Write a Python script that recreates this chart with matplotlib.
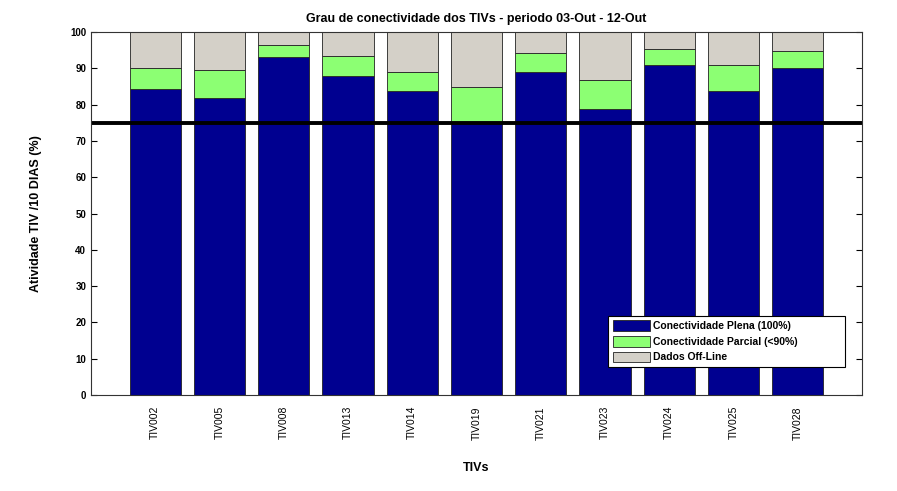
import matplotlib
matplotlib.use('Agg')
import matplotlib.pyplot as plt
import numpy as np

plt.rcParams['font.family'] = ['Liberation Sans', 'DejaVu Sans']

# dados
tivs = ['TIV002', 'TIV005', 'TIV008', 'TIV013', 'TIV014', 'TIV019',
        'TIV021', 'TIV023', 'TIV024', 'TIV025', 'TIV028']
plena = [84.3, 81.9, 93.1, 88.0, 83.7, 75.0, 89.0, 78.9, 91.0, 83.7, 90.2]
parcial_topo = [90.2, 89.6, 96.3, 93.4, 89.1, 84.8, 94.1, 86.7, 95.3, 91.0, 94.9]
parcial = [t - p for t, p in zip(parcial_topo, plena)]
offline = [100 - t for t in parcial_topo]
limite = 75

fig = plt.figure(figsize=(8.97, 4.91), dpi=100)
ax = fig.add_axes([0.1015, 0.1955, 0.8595, 0.7393])

x = np.arange(1, len(tivs) + 1)
ax.bar(x, plena, width=0.8, color='#000090', edgecolor='#222222', lw=0.6,
       label='Conectividade Plena (100%)')
ax.bar(x, parcial, width=0.8, bottom=plena, color='#8CFF73', edgecolor='#222222', lw=0.6,
       label='Conectividade Parcial (<90%)')
ax.bar(x, offline, width=0.8, bottom=parcial_topo, color='#D4D0C8', edgecolor='#222222', lw=0.6,
       label='Dados Off-Line')
ax.axhline(limite, color='black', lw=2.8)

ax.set_xlim(0, 12)
ax.set_ylim(0, 100)
ax.set_yticks(range(0, 101, 10))
ax.set_xticks(x)
ax.set_xticklabels(tivs, rotation=90, fontsize=7.5)
ax.tick_params(axis='x', length=0, pad=8)
ax.tick_params(axis='y', direction='in', length=4, right=True, labelsize=7)
for lb in ax.get_yticklabels():
    lb.set_fontweight('bold')
for s in ax.spines.values():
    s.set_color('#333333')

ax.set_title('Grau de conectividade dos TIVs - periodo 03-Out - 12-Out',
             fontsize=9, fontweight='bold', pad=7)
ax.set_xlabel('TIVs', fontsize=9, fontweight='bold', labelpad=16)
ax.set_ylabel('Atividade TIV /10 DIAS (%)', fontsize=9, fontweight='bold', labelpad=20)

leg = ax.legend(loc='lower left', bbox_to_anchor=(0.6706, 0.077, 0.3074, 0.143),
                mode='expand', fancybox=False,
                framealpha=1, edgecolor='black', prop={'size': 7.5, 'weight': 'bold'},
                handlelength=3.6, handleheight=1.2, borderpad=0.45, labelspacing=0.45,
                handletextpad=0.3, borderaxespad=0)
leg.get_frame().set_linewidth(0.8)

fig.savefig('out.png', dpi=100)
